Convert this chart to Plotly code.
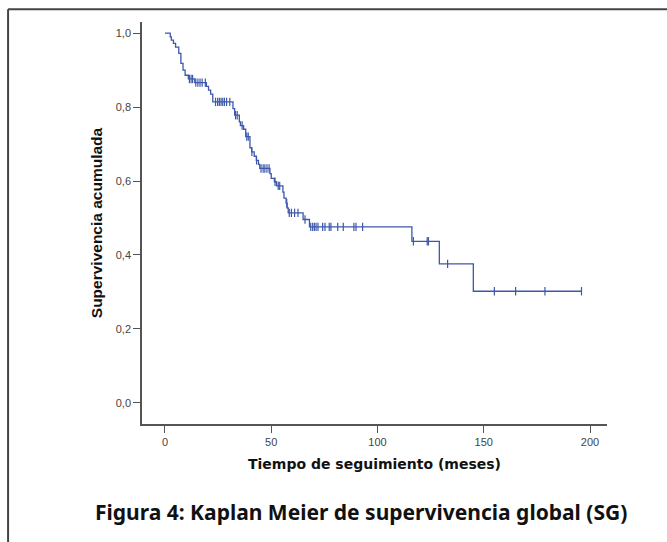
import numpy as np
import plotly.graph_objects as go

# Kaplan-Meier step function: time (months) at which survival drops, and level after the drop
step_times = [0, 2.5, 3.0, 4.0, 5.0, 6.5, 7.5, 8.5, 9.5, 11.0, 14.0, 19.5, 20.5, 21.5, 22.5,
              32.0, 32.8, 35.0, 35.5, 37.0, 38.0, 40.0, 40.8, 42.0, 43.0, 44.0, 44.6,
              49.4, 50.0, 51.5, 52.5, 55.5, 56.0, 57.0, 57.5, 58.0, 65.0, 68.0,
              116.2, 129.1, 145.1]
surv_levels = [1.000, 0.990, 0.981, 0.972, 0.962, 0.945, 0.918, 0.900, 0.886, 0.876, 0.866,
               0.856, 0.846, 0.835, 0.814,
               0.796, 0.778, 0.760, 0.750, 0.740, 0.720, 0.690, 0.679, 0.667, 0.656, 0.645, 0.634,
               0.620, 0.607, 0.598, 0.587, 0.570, 0.554, 0.540, 0.527, 0.514, 0.496, 0.476,
               0.437, 0.376, 0.302]
last_followup = 196.0

# Censored observations (months)
censor_times = [11.5, 12.3, 13.0, 14.5, 15.5, 16.5, 17.5, 19.0,
                23.8, 24.8, 25.6, 26.4, 27.2, 28.0, 29.0, 30.5,
                33.2, 34.0, 36.3, 38.5, 39.2, 40.9, 43.1,
                45.2, 46.2, 47.0, 48.0, 49.0, 51.8, 53.3, 54.0,
                57.3, 58.5, 59.5, 61.0, 62.6, 65.9,
                68.6, 69.5, 70.3, 71.1, 72.0, 74.2, 75.3, 77.3, 78.1, 81.3, 83.9, 88.9, 89.9, 93.0,
                116.9, 123.4, 124.0, 133.0, 155.0, 165.0, 178.8, 196.0]

x_ticks = [0, 50, 100, 150, 200]
y_ticks = [0.0, 0.2, 0.4, 0.6, 0.8, 1.0]
y_tick_text = ["0,0", "0,2", "0,4", "0,6", "0,8", "1,0"]

curve_color = "#3d58ab"
axis_color = "#555555"

# survival at each censoring time, read from the step function
st = np.array(step_times)
sv = np.array(surv_levels)
censor_surv = [float(sv[np.searchsorted(st, t, side="right") - 1]) for t in censor_times]

line_x = step_times + [last_followup]
line_y = surv_levels + [surv_levels[-1]]

fig = go.Figure()
fig.add_trace(go.Scatter(
    x=line_x, y=line_y, mode="lines", line_shape="hv",
    line=dict(color=curve_color, width=1.3), hoverinfo="skip", showlegend=False))
fig.add_trace(go.Scatter(
    x=censor_times, y=censor_surv, mode="markers",
    marker=dict(symbol="line-ns", size=6, line=dict(color=curve_color, width=1.2)),
    showlegend=False))

tick_font = dict(family="Liberation Sans, Arial, sans-serif", size=11, color="#444444")

fig.update_layout(
    width=667, height=542,
    margin=dict(l=142, r=60, t=22, b=118),
    paper_bgcolor="white", plot_bgcolor="white",
    font=dict(family="Liberation Sans, Arial, sans-serif", size=11, color="#333333"),
    xaxis=dict(range=[-10.8, 208], tickvals=x_ticks, ticks="outside", ticklen=7,
               tickcolor=axis_color, tickwidth=1.3, showline=True, linecolor=axis_color,
               linewidth=1.5, showgrid=False, zeroline=False, tickfont=tick_font,
               title=dict(text="<b>Tiempo de seguimiento (meses)</b>", standoff=12,
                          font=dict(family="DejaVu Sans, Verdana, sans-serif", size=14,
                                    color="#111111"))),
    yaxis=dict(range=[-0.057, 1.03], tickvals=y_ticks, ticktext=y_tick_text, ticks="outside",
               ticklen=7, tickcolor=axis_color, tickwidth=1.3, showline=True,
               linecolor=axis_color, linewidth=1.5, showgrid=False, zeroline=False,
               tickfont=tick_font,
               title=dict(text="<b>Supervivencia acumulada</b>", standoff=9,
                          font=dict(family="Liberation Sans, Arial, sans-serif", size=15.5,
                                    color="#111111"))),
)

# figure caption below the chart
fig.add_annotation(
    text="<b>Figura 4: Kaplan Meier de supervivencia global (SG)</b>",
    xref="paper", yref="paper", x=0.472, y=-0.219, xanchor="center", yanchor="middle",
    showarrow=False, font=dict(family="Noto Sans, DejaVu Sans, sans-serif", size=21,
                               color="#111111"))

# frame lines along the top and left edges
fig.add_shape(type="line", xref="paper", yref="paper", x0=-0.288, x1=1.2,
              y0=1.032, y1=1.032, line=dict(color="#444444", width=2))
fig.add_shape(type="line", xref="paper", yref="paper", x0=-0.288, x1=-0.288,
              y0=1.032, y1=-0.3, line=dict(color="#444444", width=2))

fig.write_html("out.html")
